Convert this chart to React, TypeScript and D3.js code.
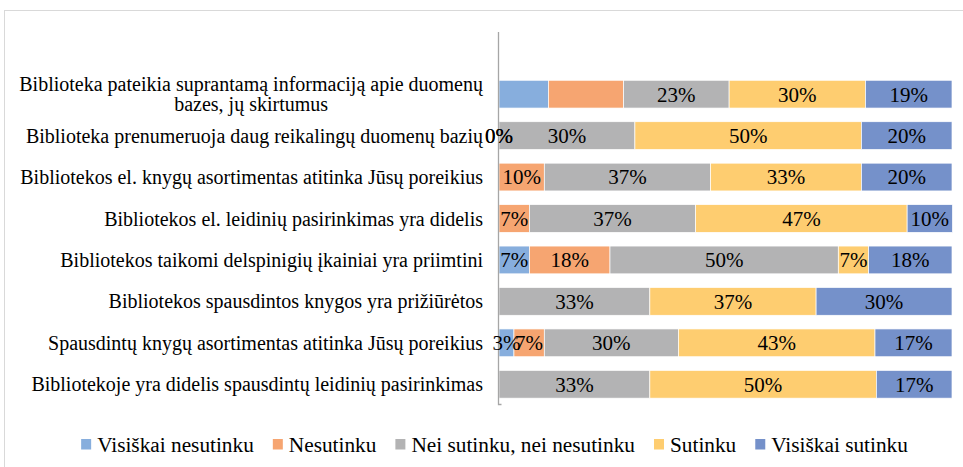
import React, { useEffect, useRef } from "react";
import * as d3 from "d3";

const categories = [
  "Biblioteka pateikia suprantamą informaciją apie duomenų bazes, jų skirtumus",
  "Biblioteka prenumeruoja daug reikalingų duomenų bazių",
  "Bibliotekos el. knygų asortimentas atitinka Jūsų poreikius",
  "Bibliotekos el. leidinių pasirinkimas yra didelis",
  "Bibliotekos taikomi delspinigių įkainiai yra priimtini",
  "Bibliotekos spausdintos knygos yra prižiūrėtos",
  "Spausdintų knygų asortimentas atitinka Jūsų poreikius",
  "Bibliotekoje yra didelis spausdintų leidinių pasirinkimas",
];

const seriesNames = [
  "Visiškai nesutinku",
  "Nesutinku",
  "Nei sutinku, nei nesutinku",
  "Sutinku",
  "Visiškai sutinku",
];
const colors = ["#87AEDD", "#F6A571", "#B3B3B4", "#FECD70", "#7591CA"];

const visiskaiNesutinku = [10.9, 0, 0, 0, 6.7, 0, 3.3, 0];
const nesutinku = [16.6, 0, 10, 6.7, 17.8, 0, 6.7, 0];
const neiNei = [23.3, 30, 36.7, 36.7, 50.4, 33.3, 29.6, 33.3];
const sutinku = [30.1, 50, 33.3, 46.7, 6.7, 36.7, 43.4, 50];
const visiskaiSutinku = [19.1, 20, 20, 10, 18.4, 30, 17, 16.7];

// [row, series] cells whose data label is not shown
const hiddenLabels = [
  [0, 0], [0, 1], [2, 0], [3, 0], [5, 0], [5, 1], [7, 0], [7, 1],
];

const W = 963,
  H = 467,
  plotLeft = 499,
  plotRight = 952,
  plotTop = 32,
  plotBottom = 405,
  serif = "Liberation Serif, DejaVu Serif, serif";

const App = () => {
  const ref = useRef<SVGSVGElement>(null);

  useEffect(() => {
    const svg = d3.select(ref.current);
    svg.selectAll("*").remove();

    const allSeries = [visiskaiNesutinku, nesutinku, neiNei, sutinku, visiskaiSutinku];
    const table = categories.map((c, i) => {
      const row: any = { cat: c, idx: i };
      seriesNames.forEach((s, j) => (row[s] = allSeries[j][i]));
      return row;
    });
    const stacked = d3.stack().keys(seriesNames)(table);

    const x = d3.scaleLinear().domain([0, 100]).range([plotLeft, plotRight]);
    const step = (plotBottom - plotTop) / (categories.length + 1);
    const y = d3
      .scaleBand()
      .domain(categories)
      .range([plotTop + step, plotBottom])
      .paddingInner(0.33)
      .paddingOuter(0.165);

    // outer frame
    svg
      .append("rect")
      .attr("x", 4.5)
      .attr("y", 10.5)
      .attr("width", 1000)
      .attr("height", 600)
      .attr("fill", "#fff")
      .attr("stroke", "#d9d9d9");

    // bars
    const layers = svg
      .selectAll("g.layer")
      .data(stacked)
      .enter()
      .append("g")
      .attr("class", "layer")
      .attr("fill", (d, i) => colors[i]);

    layers
      .selectAll("rect")
      .data(d => d)
      .enter()
      .append("rect")
      .attr("x", d => x(d[0]))
      .attr("y", (d: any) => y(d.data.cat)!)
      .attr("width", d => x(d[1]) - x(d[0]))
      .attr("height", y.bandwidth())
      .attr("stroke", "#fff")
      .attr("stroke-width", 0.7);

    // axis line
    svg
      .append("path")
      .attr("d", `M${plotLeft - 0.5},${plotTop}V${plotBottom - 0.5}h3`)
      .attr("fill", "none")
      .attr("stroke", "#a6a6a6")
      .attr("stroke-width", 1.3);

    // data labels
    const isHidden = (r: number, s: number) =>
      hiddenLabels.some(h => h[0] === r && h[1] === s);
    stacked.forEach((layer, s) => {
      svg
        .append("g")
        .selectAll("text")
        .data(layer.filter((d: any) => !isHidden(d.data.idx, s)))
        .enter()
        .append("text")
        .attr("x", d => (x(d[0]) + x(d[1])) / 2)
        .attr("y", (d: any) => y(d.data.cat)! + y.bandwidth() / 2)
        .attr("dy", "0.35em")
        .attr("text-anchor", "middle")
        .style("font-family", serif)
        .style("font-size", "21px")
        .attr("fill", "#000")
        .text(d => Math.round(d[1] - d[0]) + "%");
    });

    // category labels, wrapped and centred like Excel
    const labelRight = 483,
      maxWidth = 470;
    categories.forEach(c => {
      const t = svg
        .append("text")
        .style("font-family", serif)
        .style("font-size", "20px")
        .attr("fill", "#000");
      const words = c.split(" ");
      const lines: string[] = [];
      let cur = "";
      words.forEach(w => {
        const test = cur ? cur + " " + w : w;
        t.text(test);
        if ((t.node() as SVGTextElement).getComputedTextLength() > maxWidth && cur) {
          lines.push(cur);
          cur = w;
        } else cur = test;
      });
      lines.push(cur);
      t.text(null);
      const widths = lines.map(l => {
        t.text(l);
        return (t.node() as SVGTextElement).getComputedTextLength();
      });
      t.text(null);
      const maxW = d3.max(widths)!;
      const cx = labelRight - maxW / 2;
      const lh = 19.5;
      const cy = y(c)! + y.bandwidth() / 2 - ((lines.length - 1) * lh) / 2;
      lines.forEach((l, i) => {
        t.append("tspan")
          .attr("x", cx)
          .attr("y", cy + i * lh)
          .attr("dy", "0.35em")
          .attr("text-anchor", "middle")
          .text(l);
      });
    });

    // legend
    const lg = svg.append("g");
    let lx = 0;
    seriesNames.forEach((s, i) => {
      const item = lg.append("g").attr("transform", `translate(${lx},0)`);
      item
        .append("rect")
        .attr("x", 0)
        .attr("y", -5.5)
        .attr("width", 10)
        .attr("height", 10.5)
        .attr("fill", colors[i]);
      const t = item
        .append("text")
        .attr("x", 16)
        .attr("dy", "0.35em")
        .style("font-family", serif)
        .style("font-size", "21.3px")
        .attr("fill", "#000")
        .text(s);
      lx += 16 + (t.node() as SVGTextElement).getComputedTextLength() + 19;
    });
    const total = lx - 19;
    lg.attr("transform", `translate(${494.5 - total / 2},444.5)`);
  }, []);

  return (
    <svg
      ref={ref}
      width={W}
      height={H}
      style={{ position: "absolute", left: 0, top: 0, background: "#fff" }}
    />
  );
};

export default App;
